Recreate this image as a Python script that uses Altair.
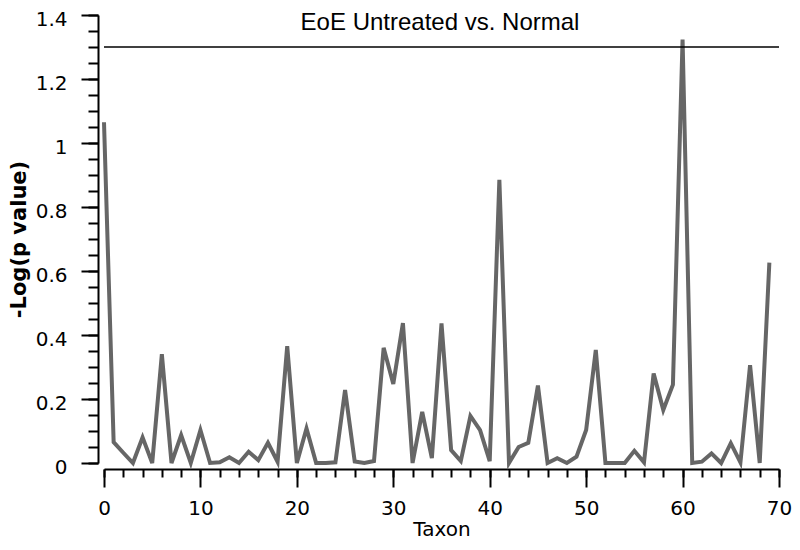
import altair as alt
import pandas as pd

title_text = "EoE Untreated vs. Normal"
x_title = "Taxon"
y_title = "-Log(p value)"
threshold = 1.3

taxon = list(range(70))
neg_log_p = [
    1.065, 0.065, 0.032, 0.0, 0.08, 0.0, 0.34, 0.0, 0.087, 0.0,
    0.103, 0.0, 0.002, 0.018, 0.0, 0.035, 0.009, 0.063, 0.004, 0.365,
    0.0, 0.108, 0.0, 0.0, 0.002, 0.228, 0.005, 0.0, 0.006, 0.36,
    0.247, 0.437, 0.0, 0.16, 0.015, 0.436, 0.04, 0.006, 0.147, 0.103,
    0.006, 0.885, 0.0, 0.05, 0.063, 0.242, 0.0, 0.015, 0.0, 0.02,
    0.103, 0.353, 0.0, 0.0, 0.0, 0.038, 0.002, 0.28, 0.166, 0.245,
    1.323, 0.0, 0.004, 0.03, 0.0, 0.062, 0.002, 0.306, 0.0, 0.626,
]

x_major = list(range(0, 71, 10))
x_minor = list(range(0, 71, 2))
y_major = [0, 0.2, 0.4, 0.6, 0.8, 1.0, 1.2, 1.4]
y_minor = [round(i * 0.05, 2) for i in range(29)]

df = pd.DataFrame({"taxon": taxon, "value": neg_log_p})

xscale = alt.Scale(domain=[0, 70], nice=False, zero=False)
yscale = alt.Scale(domain=[0, 1.4], nice=False, zero=True)

common = dict(domainColor="black", tickColor="black", labelColor="black",
              titleColor="black", grid=False, offset=6)

line = alt.Chart(df).mark_line(color="#666666", strokeWidth=4).encode(
    x=alt.X("taxon:Q", scale=xscale,
            axis=alt.Axis(orient="bottom", values=x_major, tickSize=18, tickWidth=2,
                          domainWidth=2, labelFont="DejaVu Sans", labelFontSize=20,
                          labelPadding=11, labelFlush=False, title=x_title,
                          titleFont="DejaVu Sans", titleFontSize=20,
                          titleFontWeight="normal", titlePadding=1, **common)),
    y=alt.Y("value:Q", scale=yscale,
            axis=alt.Axis(orient="left", values=y_major, format="~g", tickSize=17,
                          tickWidth=2, domainWidth=2, labelFont="DejaVu Sans",
                          labelFontSize=20, labelPadding=14, labelFlush=False,
                          labelOffset=4, title=y_title,
                          titleFont="DejaVu Sans", titleFontSize=21,
                          titleFontWeight="bold", titlePadding=6, **common)),
)

minor = alt.Chart(df).mark_line(opacity=0).encode(
    x=alt.X("taxon:Q", scale=xscale,
            axis=alt.Axis(orient="bottom", values=x_minor, tickSize=8, tickWidth=2,
                          labels=False, domain=False, title=None, **common)),
    y=alt.Y("value:Q", scale=yscale,
            axis=alt.Axis(orient="left", values=y_minor, tickSize=10, tickWidth=2,
                          labels=False, domain=False, title=None, **common)),
)

rule = alt.Chart(pd.DataFrame({"thr": [threshold]})).mark_rule(
    color="black", strokeWidth=1.5
).encode(y=alt.Y("thr:Q", scale=yscale, axis=None))

title = alt.Chart(pd.DataFrame({"t": [title_text]})).mark_text(
    font="Liberation Sans", fontSize=24, align="center", baseline="alphabetic",
    color="black"
).encode(x=alt.value(336), y=alt.value(15), text="t:N")

chart = alt.layer(line, minor, rule, title).resolve_axis(
    x="independent", y="independent"
).properties(
    width=675, height=448,
    autosize=alt.AutoSizeParams(type="none"),
    padding={"left": 96, "top": 7, "right": 13, "bottom": 78},
    background="white",
).configure_view(stroke=None)

chart.save("out.html", embed_options={"renderer": "svg", "actions": False})
